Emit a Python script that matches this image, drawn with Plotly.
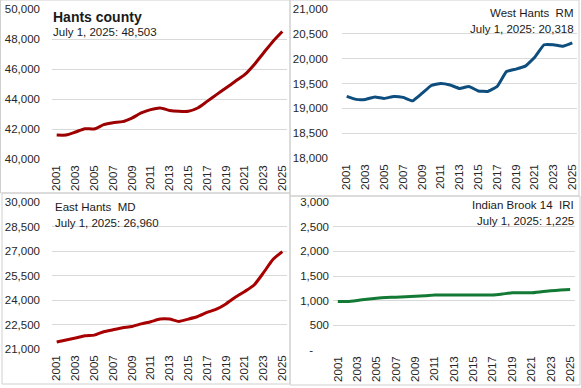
import plotly.graph_objects as go

years = [str(y) for y in range(2001, 2026)]
tick_years = [str(y) for y in range(2001, 2026, 2)]

hants_county = [41600, 41600, 41800, 42020, 42000, 42290, 42420, 42490, 42730, 43070,
                43290, 43400, 43240, 43180, 43180, 43400, 43840, 44290, 44730, 45180,
                45620, 46290, 47070, 47840, 48503]
west_hants = [19240, 19180, 19180, 19230, 19200, 19240, 19220, 19150, 19300, 19460,
              19500, 19470, 19400, 19440, 19350, 19340, 19440, 19740, 19790, 19850,
              20030, 20280, 20280, 20250, 20318]
east_hants = [21430, 21550, 21670, 21810, 21850, 22060, 22180, 22300, 22380, 22540,
              22670, 22830, 22830, 22690, 22830, 22990, 23240, 23440, 23760, 24170,
              24520, 24920, 25670, 26480, 26960]
indian_brook = [985, 985, 1005, 1030, 1050, 1065, 1070, 1080, 1090, 1100,
                1115, 1115, 1115, 1115, 1115, 1115, 1115, 1135, 1160, 1160,
                1160, 1180, 1200, 1215, 1225]

tl_ticks = [40000, 42000, 44000, 46000, 48000, 50000]
tr_ticks = [18000, 18500, 19000, 19500, 20000, 20500, 21000]
bl_ticks = [21000, 22500, 24000, 25500, 27000, 28500, 30000]
br_ticks = [0, 500, 1000, 1500, 2000, 2500, 3000]
br_ticktext = ["-\u00a0\u00a0\u00a0\u00a0\u00a0"] + [f"{v:,}" for v in br_ticks[1:]]

W, H = 581, 388
def px(x): return x / W
def py(y): return 1 - y / H

FONT = "Liberation Sans"
TXT = "#262626"
GRID = "#d9d9d9"

fig = go.Figure()
fig.add_trace(go.Scatter(x=years, y=hants_county, mode="lines", xaxis="x", yaxis="y",
                         line=dict(color="#9c0000", width=3, shape="spline", smoothing=0.6)))
fig.add_trace(go.Scatter(x=years, y=west_hants, mode="lines", xaxis="x2", yaxis="y2",
                         line=dict(color="#0d4e7e", width=3, shape="spline", smoothing=0.3)))
fig.add_trace(go.Scatter(x=years, y=east_hants, mode="lines", xaxis="x3", yaxis="y3",
                         line=dict(color="#a80000", width=3, shape="spline", smoothing=0.6)))
fig.add_trace(go.Scatter(x=years, y=indian_brook, mode="lines", xaxis="x4", yaxis="y4",
                         line=dict(color="#137a35", width=3, shape="spline", smoothing=0.3)))

def xax(dom, anchor):
    return dict(domain=dom, anchor=anchor, type="category", tickvals=tick_years,
                tickangle=-90, showgrid=False, showline=False, zeroline=False,
                ticks="", ticklabelstandoff=3, range=[-0.5, 24.5], automargin=False,
                tickfont=dict(family=FONT, size=11.5, color=TXT))

def yax(dom, anchor, rng, tv, tt, standoff):
    return dict(domain=dom, anchor=anchor, range=rng, tickvals=tv, ticktext=tt,
                showgrid=True, gridcolor=GRID, gridwidth=1, showline=False,
                zeroline=False, ticks="", ticklabelstandoff=standoff, automargin=False,
                tickfont=dict(family=FONT, size=11.5, color=TXT))

fig.update_layout(
    template="none",
    width=W, height=H, margin=dict(l=0, r=0, t=0, b=0, pad=0),
    paper_bgcolor="white", plot_bgcolor="white", showlegend=False,
    xaxis=xax([px(52), px(287)], "y"),
    yaxis=yax([py(159), py(9)], "x", [40000, 50000], tl_ticks,
              [f"{v:,}" for v in tl_ticks], 11),
    xaxis2=xax([px(342), px(577)], "y2"),
    yaxis2=yax([py(158), py(9)], "x2", [18000, 21000], tr_ticks,
               [f"{v:,}" for v in tr_ticks], 13),
    xaxis3=xax([px(52), px(287)], "y3"),
    yaxis3=yax([py(349), py(202)], "x3", [21000, 30000], bl_ticks,
               [f"{v:,}" for v in bl_ticks], 11),
    xaxis4=xax([px(333), px(575)], "y4"),
    yaxis4=yax([py(350), py(202)], "x4", [0, 3000], br_ticks, br_ticktext, 3),
)

def ann(text, x, y, anchor, size=12, bold=False):
    t = f"<b>{text}</b>" if bold else text
    fig.add_annotation(text=t, x=px(x), y=py(y), xref="paper", yref="paper",
                       xanchor=anchor, yanchor="middle", showarrow=False,
                       font=dict(family=FONT, size=size, color="#1a1a1a"))

ann("Hants county", 51, 17, "left", size=14, bold=True)
ann("July 1, 2025: 48,503", 51, 32, "left", size=11.5)
ann("West Hants\u00a0\u00a0RM", 576, 13, "right", size=11.5)
ann("July 1, 2025: 20,318", 576, 29, "right", size=11.5)
ann("East Hants\u00a0\u00a0MD", 53, 207, "left", size=11.5)
ann("July 1, 2025: 26,960", 53, 223, "left", size=11.5)
ann("Indian Brook 14\u00a0\u00a0IRI", 576, 205, "right", size=11.5)
ann("July 1, 2025: 1,225", 576, 221, "right", size=11.5)

BORDER = "#d0d0d0"
for (x0, y0, x1, y1) in [(0.5, 0, 290, 193), (290, 0, 579, 196),
                         (2, 193, 290, 384), (290, 196, 580, 385)]:
    fig.add_shape(type="rect", xref="paper", yref="paper",
                  x0=px(x0), x1=px(x1), y0=py(y1), y1=py(y0),
                  line=dict(color=BORDER, width=1), fillcolor="rgba(0,0,0,0)", layer="below")

fig.write_html("out.html", config={"displayModeBar": False},
               post_script="document.body.style.margin='0';document.body.style.overflow='hidden';")
